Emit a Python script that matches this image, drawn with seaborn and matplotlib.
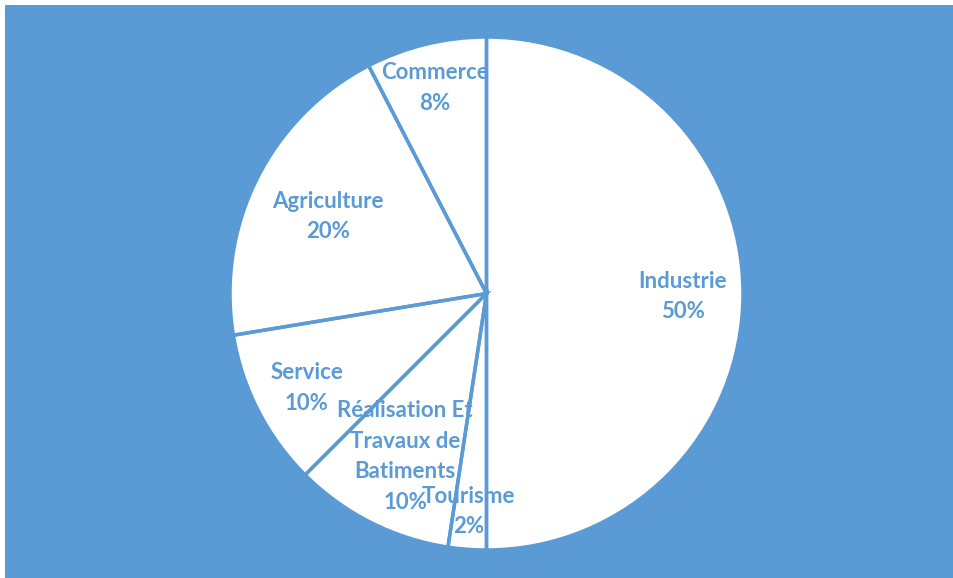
import matplotlib
matplotlib.use("Agg")
import matplotlib.pyplot as plt
import matplotlib.transforms as mtransforms
import seaborn as sns
import numpy as np

categories = ["Industrie", "Tourisme", "Réalisation Et\nTravaux de\nBatiments", "Service", "Agriculture", "Commerce"]
values = [50, 2.4, 10.1, 9.9, 20, 7.6]
pct_labels = ["50%", "2%", "10%", "10%", "20%", "8%"]
# label placement (angle in degrees, fraction of radius)
label_angles = [0, 265.3, 243, 207, 153.2, 103.9]
label_radii = [0.766, 0.84, 0.70, 0.786, 0.692, 0.837]

sns.set_style("white")
plt.rcParams['font.family'] = ['Lato', 'DejaVu Sans']

BLUE = "#5B9BD5"
fig = plt.figure(figsize=(9.54, 5.78), dpi=100)
fig.patch.set_facecolor("white")
bg = plt.Rectangle((5 / 954, 0), 1, 1 - 5 / 578, transform=fig.transFigure,
                   facecolor=BLUE, edgecolor="none", zorder=-10)
fig.patches.append(bg)

ax = fig.add_axes([230 / 954, 28 / 578, 513 / 954, 513 / 578])
ax.set_facecolor("none")
ax.patch.set_alpha(0)
ax.set_zorder(5)

# filled wedges
ax.pie(values, startangle=90, counterclock=False, radius=1,
       colors=["white"] * len(values),
       wedgeprops=dict(edgecolor="none", linewidth=0, zorder=1))
# labels (shifted down by 3 px to match the reference)
shift = mtransforms.ScaledTranslation(0, -3 / 100, fig.dpi_scale_trans)
for cat, pct, ang, r in zip(categories, pct_labels, label_angles, label_radii):
    a = np.deg2rad(ang)
    ax.text(r * np.cos(a), r * np.sin(a), cat + "\n" + pct, ha="center", va="center",
            color=BLUE, fontsize=16, fontweight="bold", linespacing=1.55, zorder=2,
            transform=ax.transData + shift)
# outlines on top
ax.pie(values, startangle=90, counterclock=False, radius=1,
       colors=["none"] * len(values),
       wedgeprops=dict(edgecolor=BLUE, linewidth=2.5, fill=False, zorder=3))
ax.set_xlim(-1, 1)
ax.set_ylim(-1, 1)
ax.set_aspect("equal")
ax.axis("off")

fig.savefig("out.png", dpi=100, facecolor="white")
